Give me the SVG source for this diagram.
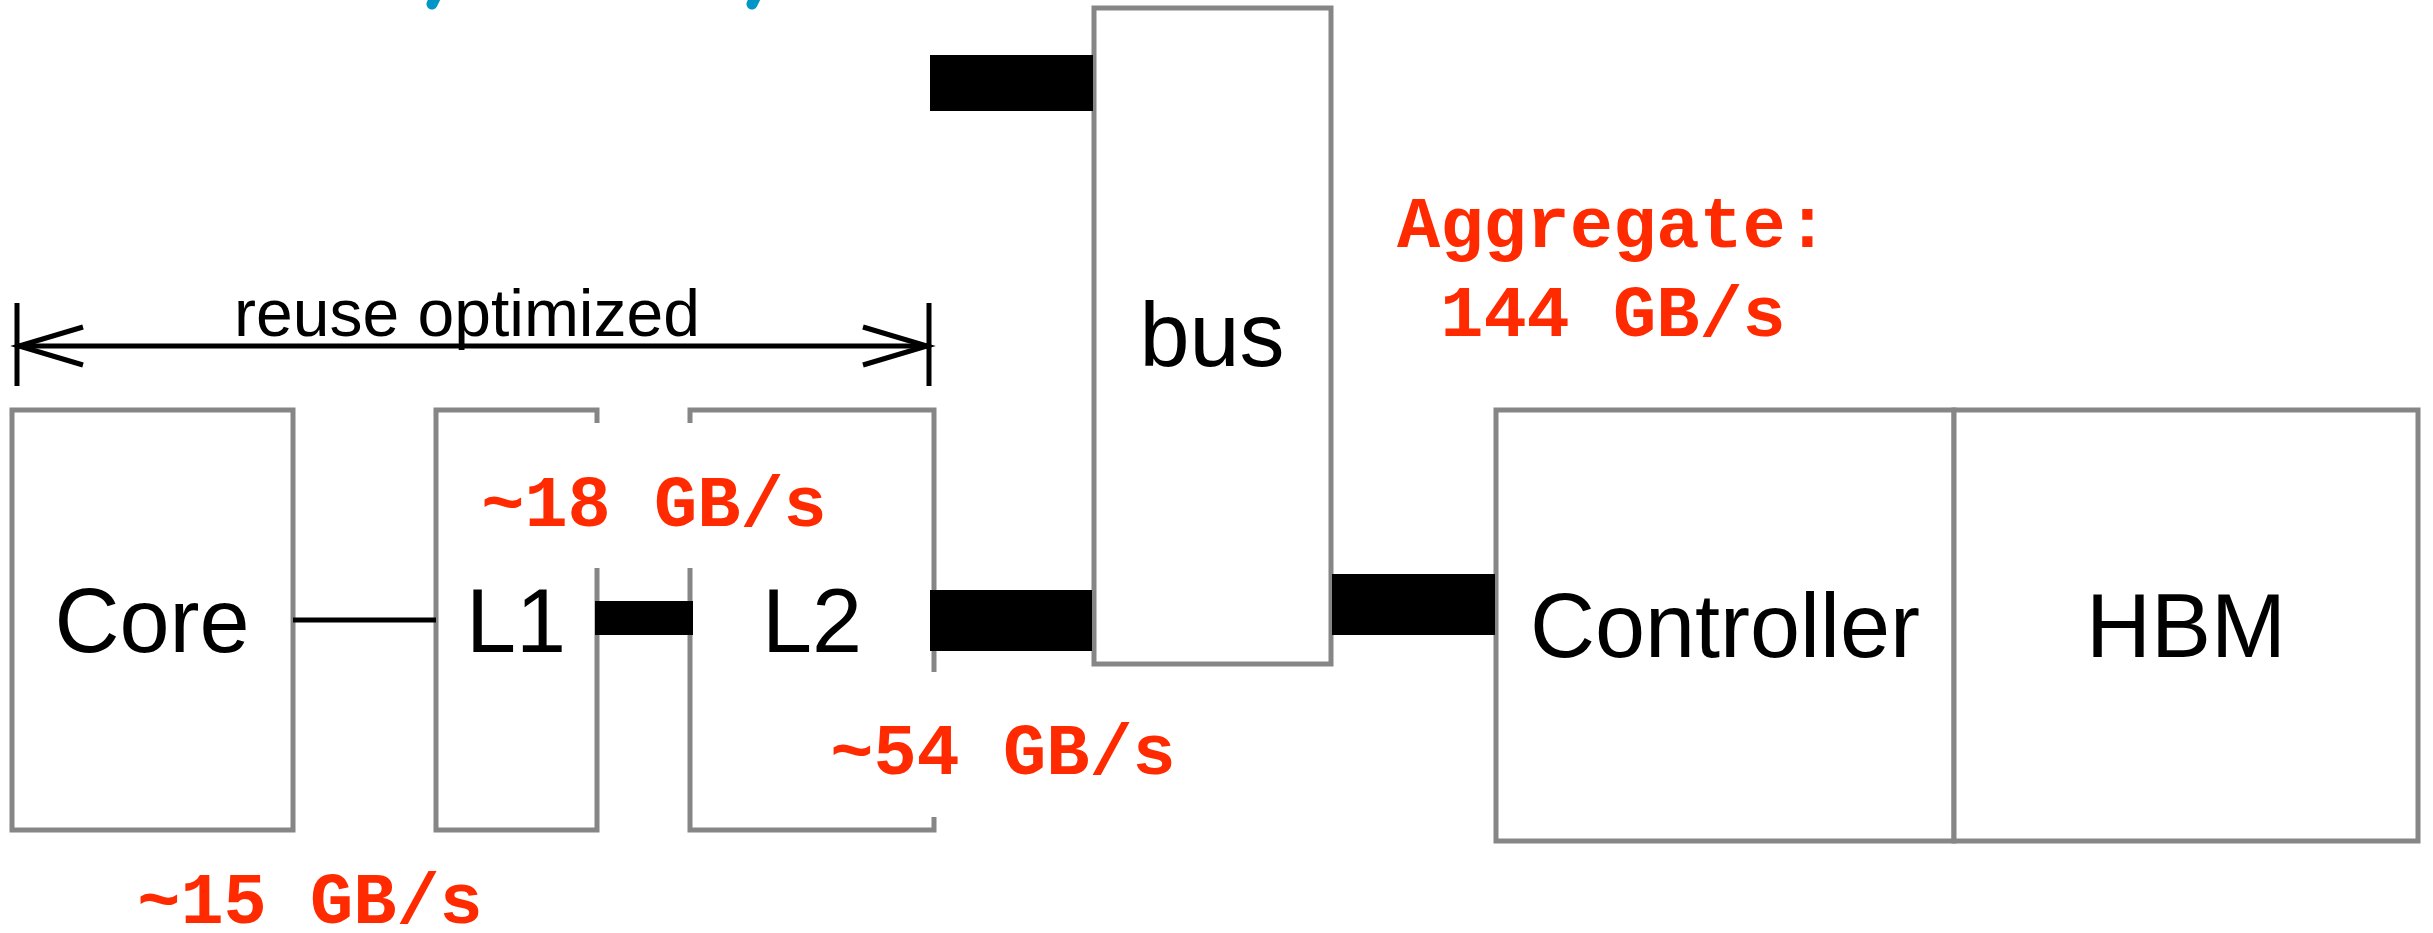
<svg xmlns="http://www.w3.org/2000/svg" width="2433" height="933" viewBox="0 0 2433 933">
  <style>
    .box { fill: #ffffff; stroke: #868686; stroke-width: 5; }
    .open { fill: none; stroke: #868686; stroke-width: 5; }
    .lbl { font-family: "Liberation Sans", Arial, sans-serif; font-size: 90px; fill: #000000; text-anchor: middle; }
    .dim { font-family: "Liberation Sans", Arial, sans-serif; font-size: 66px; fill: #000000; text-anchor: middle; }
    .bw { font-family: "Liberation Mono", "Courier New", monospace; font-weight: bold; font-size: 72px; fill: #ff2a00; text-anchor: middle; }
    .bar { fill: #000000; }
    .wire { stroke: #000000; stroke-width: 5; fill: none; }
    .title { stroke: #0096c6; stroke-width: 11; stroke-linecap: round; fill: none; }
  </style>
  <defs>
    <marker id="chev" viewBox="0 0 68 40" refX="64" refY="20" markerWidth="68" markerHeight="40" markerUnits="userSpaceOnUse" orient="auto-start-reverse" overflow="visible">
      <path d="M0,1 L64,20 L0,39" fill="none" stroke="#000000" stroke-width="5"/>
    </marker>
  </defs>

  <rect x="0" y="0" width="2433" height="933" fill="#ffffff"/>

  <!-- cut-off title fragments at the top edge -->
  <g id="title-fragments">
    <line class="title" x1="437" y1="-6" x2="432" y2="4"/>
    <line class="title" x1="757" y1="-6" x2="752" y2="4"/>
  </g>

  <!-- dimension: reuse optimized -->
  <g id="reuse-dimension">
    <line class="wire" x1="17" y1="303" x2="17" y2="386"/>
    <line class="wire" x1="929" y1="303" x2="929" y2="386"/>
    <line class="wire" x1="19" y1="346" x2="927" y2="346" marker-start="url(#chev)" marker-end="url(#chev)"/>
    <text class="dim" x="467" y="336">reuse optimized</text>
  </g>

  <!-- nodes -->
  <g id="core">
    <rect class="box" x="12" y="410" width="281" height="420"/>
    <text class="lbl" x="152" y="652">Core</text>
  </g>
  <g id="l1">
    <path class="open" d="M597,423 V410 H436 V830 H597 V568"/>
    <text class="lbl" x="516" y="652">L1</text>
  </g>
  <g id="l2">
    <path class="open" d="M690,423 V410 H934 V672 M934,817 V830 H690 V568"/>
    <text class="lbl" x="812" y="652">L2</text>
  </g>
  <g id="bus">
    <rect class="box" x="1094" y="8" width="237" height="656"/>
    <text class="lbl" x="1212" y="366">bus</text>
  </g>
  <g id="controller">
    <rect class="box" x="1496" y="410" width="458" height="431"/>
    <text class="lbl" x="1725" y="657">Controller</text>
  </g>
  <g id="hbm">
    <rect class="box" x="1954" y="410" width="464" height="431"/>
    <text class="lbl" x="2186" y="657">HBM</text>
  </g>

  <!-- connectors -->
  <g id="connectors">
    <line class="wire" x1="293" y1="620" x2="436" y2="620"/>
    <rect class="bar" x="595" y="601" width="98" height="34"/>
    <rect class="bar" x="930" y="590" width="162" height="61"/>
    <rect class="bar" x="930" y="55" width="163" height="56"/>
    <rect class="bar" x="1332" y="574" width="163" height="61"/>
  </g>

  <!-- bandwidth labels -->
  <g id="bandwidth-labels">
    <text class="bw" x="310" y="923">~15 GB/s</text>
    <text class="bw" x="654" y="526">~18 GB/s</text>
    <text class="bw" x="1003" y="774">~54 GB/s</text>
    <text class="bw" x="1613" y="247">Aggregate:</text>
    <text class="bw" x="1613" y="336">144 GB/s</text>
  </g>
</svg>
